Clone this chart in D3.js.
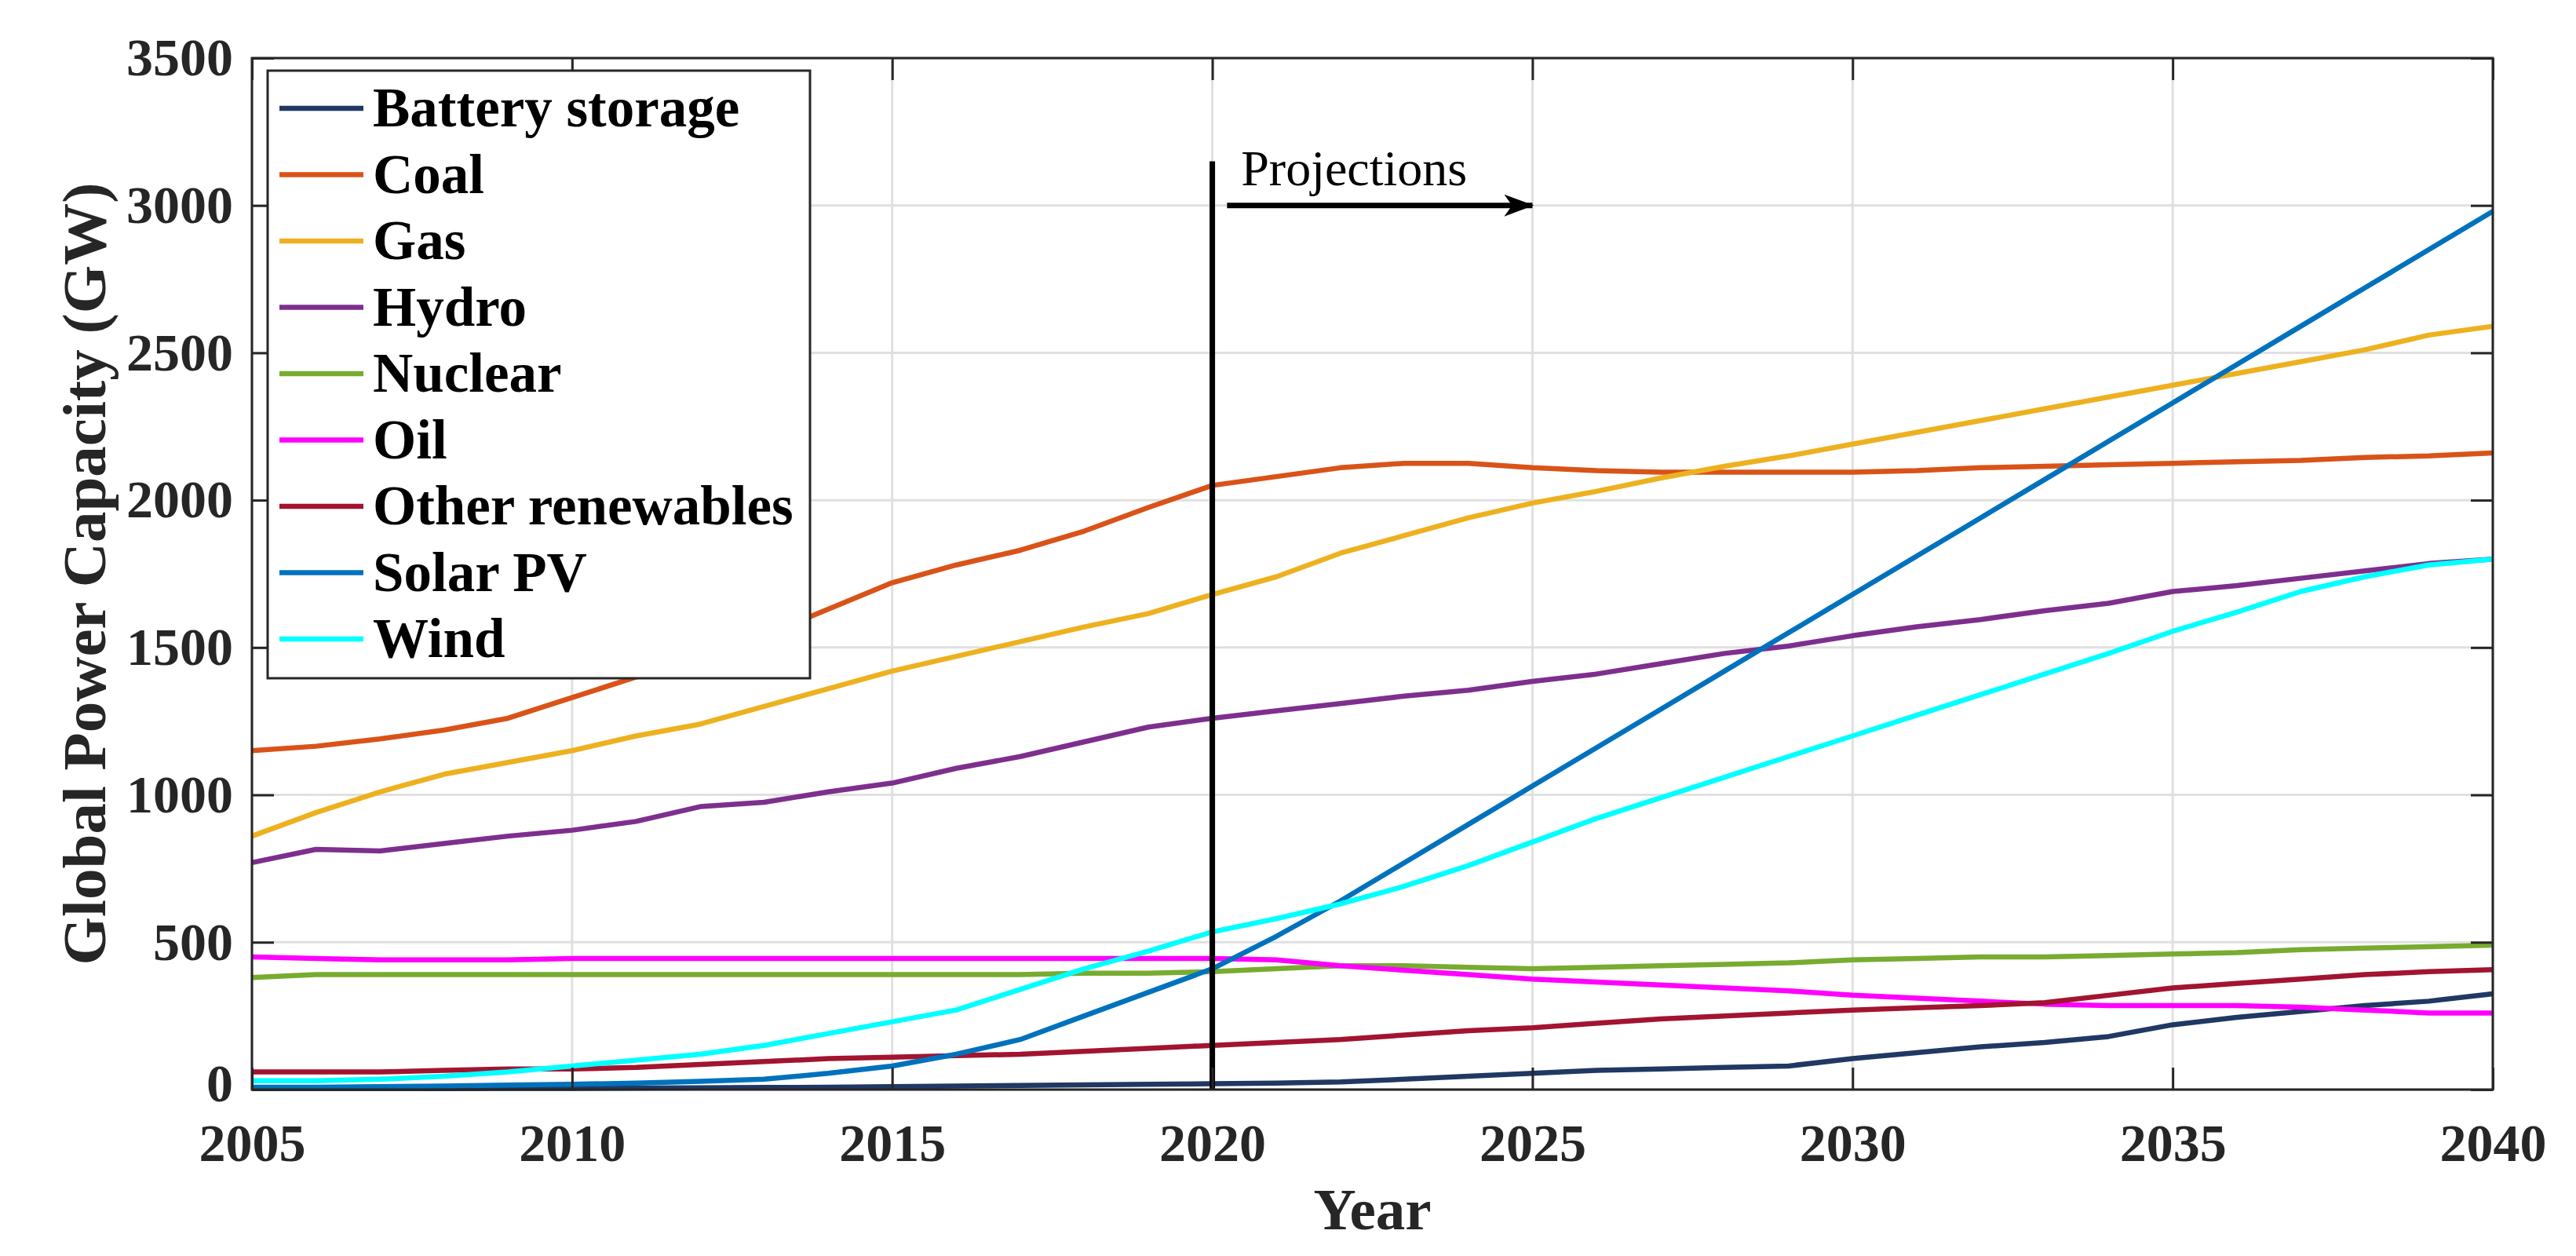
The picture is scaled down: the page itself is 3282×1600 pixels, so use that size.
<!DOCTYPE html>
<html>
<head>
<meta charset="utf-8">
<script src="https://cdn.jsdelivr.net/npm/d3@7"></script>
<style>
  body { margin: 0; background: #fff; }
  svg { display: block; }
</style>
</head>
<body>
<svg id="chart" width="3282" height="1600"></svg>
<script>
/// data ///
const years = d3.range(2005, 2041);
const seriesNames = ["Battery storage", "Coal", "Gas", "Hydro", "Nuclear", "Oil", "Other renewables", "Solar PV", "Wind"];
const seriesColours = ["#203864", "#D95319", "#EDB120", "#7E2F8E", "#77AC30", "#FF00FF", "#A2142F", "#0072BD", "#00FFFF"];

const battery = [3, 3, 3, 3, 4, 4, 5, 6, 7, 8, 10, 12, 14, 16, 18, 20, 22, 26, 35, 45, 55, 65, 70, 75, 80, 105, 125, 145, 160, 180, 220, 245, 265, 285, 300, 325];
const coal = [1150, 1165, 1190, 1220, 1260, 1330, 1400, 1470, 1540, 1630, 1720, 1780, 1830, 1895, 1975, 2050, 2080, 2110, 2125, 2125, 2110, 2100, 2095, 2095, 2095, 2095, 2100, 2110, 2115, 2120, 2125, 2130, 2135, 2145, 2150, 2160];
const gas = [860, 940, 1010, 1070, 1110, 1150, 1200, 1240, 1300, 1360, 1420, 1470, 1520, 1570, 1615, 1680, 1740, 1820, 1880, 1940, 1990, 2030, 2075, 2115, 2150, 2190, 2230, 2270, 2310, 2350, 2390, 2430, 2470, 2510, 2560, 2590];
const hydro = [770, 815, 810, 835, 860, 880, 910, 960, 975, 1010, 1040, 1090, 1130, 1180, 1230, 1260, 1285, 1310, 1335, 1355, 1385, 1410, 1445, 1480, 1505, 1540, 1570, 1595, 1625, 1650, 1690, 1710, 1735, 1760, 1785, 1800];
const nuclear = [380, 390, 390, 390, 390, 390, 390, 390, 390, 390, 390, 390, 390, 395, 395, 400, 410, 420, 420, 415, 410, 415, 420, 425, 430, 440, 445, 450, 450, 455, 460, 465, 475, 480, 485, 490];
const oil = [450, 445, 440, 440, 440, 445, 445, 445, 445, 445, 445, 445, 445, 445, 445, 445, 440, 420, 405, 390, 375, 365, 355, 345, 335, 320, 310, 300, 290, 285, 285, 285, 280, 270, 260, 260];
const otherRenewables = [60, 60, 60, 65, 70, 70, 75, 85, 95, 105, 110, 115, 120, 130, 140, 150, 160, 170, 185, 200, 210, 225, 240, 250, 260, 270, 278, 285, 295, 320, 345, 360, 375, 390, 400, 407];
const solarPV = [8, 8, 10, 12, 15, 18, 22, 28, 35, 55, 80, 120, 170, 250, 330, 410, 520, 640, 770, 900, 1030, 1160, 1290, 1420, 1550, 1680, 1810, 1940, 2070, 2200, 2330, 2460, 2590, 2720, 2850, 2980];
const wind = [30, 30, 35, 45, 60, 80, 100, 120, 150, 190, 230, 270, 340, 410, 470, 535, 580, 630, 690, 760, 840, 920, 990, 1060, 1130, 1200, 1270, 1340, 1410, 1480, 1555, 1620, 1690, 1740, 1780, 1800];

const xTicks = [2005, 2010, 2015, 2020, 2025, 2030, 2035, 2040];
const yTicks = [0, 500, 1000, 1500, 2000, 2500, 3000, 3500];

const seriesValues = [battery, coal, gas, hydro, nuclear, oil, otherRenewables, solarPV, wind];
const series = seriesNames.map((name, i) => ({ name, colour: seriesColours[i], values: seriesValues[i] }));

/// constants ///
const margin = { top: 74, right: 106, bottom: 212, left: 321 };
const width = 3282, height = 1600;
const innerW = width - margin.left - margin.right;
const innerH = height - margin.top - margin.bottom;
const axisColour = "#262626";
const gridColour = "#e0e0e0";
const fontFamily = "'Liberation Serif', 'Times New Roman', serif";

const svg = d3.select("#chart");
const g = svg.append("g").attr("transform", `translate(${margin.left},${margin.top})`);

/// scales ///
const xScale = d3.scaleLinear().domain([2005, 2040]).range([0, innerW]);
const yScale = d3.scaleLinear().domain([0, 3500]).range([innerH, 0]);

// grid lines
g.append("g")
  .selectAll("line")
  .data(xTicks)
  .join("line")
  .attr("x1", d => xScale(d)).attr("x2", d => xScale(d))
  .attr("y1", 0).attr("y2", innerH)
  .attr("stroke", gridColour).attr("stroke-width", 3);
g.append("g")
  .selectAll("line")
  .data(yTicks)
  .join("line")
  .attr("x1", 0).attr("x2", innerW)
  .attr("y1", d => yScale(d)).attr("y2", d => yScale(d))
  .attr("stroke", gridColour).attr("stroke-width", 3);

/// lines ///
const line = d3.line()
  .x((d, i) => xScale(years[i]))
  .y(d => yScale(d));

g.append("g")
  .selectAll("path")
  .data(series)
  .join("path")
  .attr("d", d => line(d.values))
  .attr("fill", "none")
  .attr("stroke", d => d.colour)
  .attr("stroke-width", 6.5)
  .attr("stroke-linejoin", "round");

/// projection marker ///
g.append("line")
  .attr("x1", xScale(2020)).attr("x2", xScale(2020))
  .attr("y1", yScale(3150)).attr("y2", yScale(0))
  .attr("stroke", "#000").attr("stroke-width", 7);

svg.append("defs").append("marker")
  .attr("id", "arrow")
  .attr("markerUnits", "userSpaceOnUse")
  .attr("viewBox", "0 0 38 28")
  .attr("refX", 36).attr("refY", 14)
  .attr("markerWidth", 38).attr("markerHeight", 28)
  .attr("orient", "auto")
  .append("path")
  .attr("d", "M0,0 L38,14 L0,28 L10,14 Z")
  .attr("fill", "#000");

g.append("line")
  .attr("x1", xScale(2020.23)).attr("x2", xScale(2025))
  .attr("y1", yScale(3000)).attr("y2", yScale(3000))
  .attr("stroke", "#000").attr("stroke-width", 7)
  .attr("marker-end", "url(#arrow)");

g.append("text")
  .attr("x", xScale(2020.45))
  .attr("y", yScale(3000) - 26)
  .attr("font-family", fontFamily)
  .attr("font-size", 64)
  .attr("fill", "#000")
  .text("Projections");

/// axes ///
const tickLen = 28;
const tickFont = 68;
const xAxis = g.append("g").attr("transform", `translate(0,${innerH})`)
  .call(d3.axisBottom(xScale).tickValues(xTicks).tickFormat(d3.format("d")).tickSizeInner(-tickLen).tickSizeOuter(0).tickPadding(43));
const yAxis = g.append("g")
  .call(d3.axisLeft(yScale).tickValues(yTicks).tickFormat(d3.format("d")).tickSizeInner(-tickLen).tickSizeOuter(0).tickPadding(24));
const xAxisTop = g.append("g")
  .call(d3.axisTop(xScale).tickValues(xTicks).tickFormat("").tickSizeInner(-tickLen).tickSizeOuter(0));
const yAxisRight = g.append("g").attr("transform", `translate(${innerW},0)`)
  .call(d3.axisRight(yScale).tickValues(yTicks).tickFormat("").tickSizeInner(-tickLen).tickSizeOuter(0));

[xAxis, yAxis, xAxisTop, yAxisRight].forEach(a => {
  a.select(".domain").remove();
  a.selectAll(".tick line").attr("stroke", axisColour).attr("stroke-width", 3);
  a.selectAll("text")
    .attr("font-family", fontFamily)
    .attr("font-weight", "bold")
    .attr("font-size", tickFont)
    .attr("fill", axisColour);
});

// lift the "0" label a touch so it clears the "2005" label below it
yAxis.selectAll(".tick text").filter(d => d === 0).attr("dy", "0.22em");

// axes box
g.append("rect")
  .attr("x", 0).attr("y", 0)
  .attr("width", innerW).attr("height", innerH)
  .attr("fill", "none")
  .attr("stroke", axisColour).attr("stroke-width", 3);

// axis labels
svg.append("text")
  .attr("x", margin.left + innerW / 2)
  .attr("y", 1566)
  .attr("text-anchor", "middle")
  .attr("font-family", fontFamily)
  .attr("font-weight", "bold")
  .attr("font-size", 75)
  .attr("fill", axisColour)
  .text("Year");

svg.append("text")
  .attr("transform", `translate(134,${margin.top + innerH / 2}) rotate(-90)`)
  .attr("text-anchor", "middle")
  .attr("font-family", fontFamily)
  .attr("font-weight", "bold")
  .attr("font-size", 79)
  .attr("fill", axisColour)
  .text("Global Power Capacity (GW)");

/// legend ///
const legend = svg.append("g").attr("transform", "translate(341,90)");
const legendRowH = 84.5;
legend.append("rect")
  .attr("width", 691).attr("height", 774)
  .attr("fill", "#fff")
  .attr("stroke", axisColour).attr("stroke-width", 3);

const rows = legend.selectAll(".legend-row")
  .data(series)
  .join("g")
  .classed("legend-row", true)
  .attr("transform", (d, i) => `translate(0,${48 + i * legendRowH})`);

rows.append("line")
  .attr("x1", 15).attr("x2", 122)
  .attr("stroke", d => d.colour)
  .attr("stroke-width", 6.5);

rows.append("text")
  .attr("x", 134)
  .attr("dy", "0.33em")
  .attr("font-family", fontFamily)
  .attr("font-weight", "bold")
  .attr("font-size", 71)
  .attr("fill", "#000")
  .text(d => d.name);
</script>
</body>
</html>
